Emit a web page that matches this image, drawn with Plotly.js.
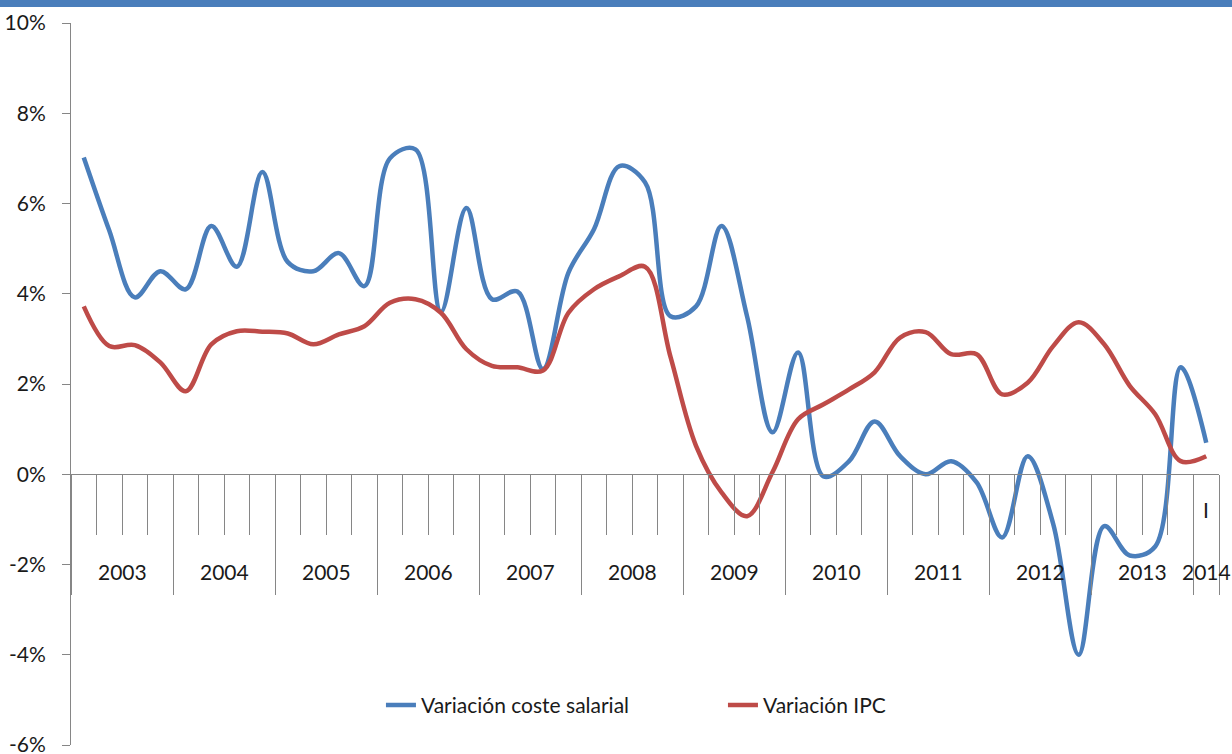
<!DOCTYPE html>
<html>
<head>
<meta charset="utf-8">
<script src="https://cdn.plot.ly/plotly-3.0.1.min.js"></script>
<style>
  html, body { margin: 0; padding: 0; background: #ffffff; }
  #topbar { position: absolute; left: 0; top: 0; width: 1232px; height: 7px; background: #4a7ebb; z-index: 5; }
  #chart { position: absolute; left: 0; top: 0; width: 1232px; height: 754px; }
</style>
</head>
<body>
<div id="topbar"></div>
<div id="chart"></div>
<script>
// Years and quarter counts (2003 Q1 .. 2014 Q1)
const years = ['2003','2004','2005','2006','2007','2008','2009','2010','2011','2012','2013','2014'];
const quartersPerYear = [4,4,4,4,4,4,4,4,4,4,4,1];
const quarterLabels2014 = ['I'];

// Variación coste salarial (%)
const costeSalarial = [
  7.02, 5.4, 3.92, 4.5, 4.1, 5.5, 4.6, 6.7, 4.7, 4.5, 4.9, 4.17,
  7.0, 7.2, 3.6, 5.9, 3.88, 4.05, 2.33, 4.47, 5.43, 6.83, 6.47, 3.5,
  3.72, 5.5, 3.5, 0.93, 2.7, -0.05, 0.29, 1.17, 0.4, 0.0, 0.29, -0.18,
  -1.4, 0.4, -1.1, -4.0, -1.15, -1.8, -1.6, 2.37, 0.7
];
// Variación IPC (%)
const ipc = [
  3.72, 2.84, 2.86, 2.48, 1.84, 2.88, 3.17, 3.16, 3.12, 2.88, 3.1, 3.28,
  3.8, 3.88, 3.58, 2.77, 2.4, 2.37, 2.3, 3.58, 4.1, 4.39, 4.6, 2.6,
  0.63, -0.4, -0.93, 0.05, 1.22, 1.55, 1.88, 2.26, 3.03, 3.15, 2.66, 2.66,
  1.77, 2.03, 2.84, 3.37, 2.88, 1.96, 1.33, 0.29, 0.4
];

const yTickVals = [-6,-4,-2,0,2,4,6,8,10];
const yTickText = ['-6%','-4%','-2%','0%','2%','4%','6%','8%','10%'];

const FONT = 'Lato, "Open Sans", sans-serif';
const AXIS_GRAY = '#868686';
const TXT = '#1a1a1a';

const nQ = costeSalarial.length;
const xPos = costeSalarial.map((_, i) => i + 0.5);

// year boundaries and centres
const boundaries = [0];
const centres = [];
let acc = 0;
quartersPerYear.forEach(q => { centres.push(acc + q / 2); acc += q; boundaries.push(acc); });

const annotations = years.map((y, i) => ({
  x: centres[i], y: -2.15, xref: 'x', yref: 'y', text: y, showarrow: false,
  font: { family: FONT, size: 21, color: TXT }, xanchor: 'center', yanchor: 'middle'
}));
// quarter label for 2014
quarterLabels2014.forEach((q, k) => {
  annotations.push({
    x: boundaries[11] + k + 0.5, y: -0.78, xref: 'x', yref: 'y', text: q, showarrow: false,
    font: { family: FONT, size: 21, color: TXT }, xanchor: 'center', yanchor: 'middle'
  });
});

const traces = [
  { x: xPos, y: costeSalarial, type: 'scatter', mode: 'lines', name: 'Variación coste salarial',
    line: { color: '#4a7ebb', width: 4.5, shape: 'spline', smoothing: 1 } },
  { x: xPos, y: ipc, type: 'scatter', mode: 'lines', name: 'Variación IPC',
    line: { color: '#be4b48', width: 4.5, shape: 'spline', smoothing: 1 } }
];

const layout = {
  width: 1232, height: 754,
  margin: { l: 71, r: 13, t: 23, b: 9 },
  paper_bgcolor: '#ffffff', plot_bgcolor: '#ffffff',
  font: { family: FONT, size: 21, color: TXT },
  showlegend: true,
  legend: {
    orientation: 'h', x: 0.27, xanchor: 'left', y: 0.055, yanchor: 'middle',
    font: { family: FONT, size: 21, color: TXT }, entrywidth: 297, bgcolor: 'rgba(0,0,0,0)'
  },
  xaxis: {
    range: [0, nQ], anchor: 'free', position: 0.375, domain: [0, 1],
    showgrid: false, zeroline: false, showline: true, linecolor: AXIS_GRAY, linewidth: 1,
    tickmode: 'array', tickvals: boundaries, ticks: 'outside', ticklen: 120, tickcolor: AXIS_GRAY, tickwidth: 1,
    showticklabels: false,
    minor: { tickmode: 'linear', tick0: 0, dtick: 1, ticks: 'outside', ticklen: 60, tickcolor: AXIS_GRAY, tickwidth: 1, showgrid: false }
  },
  yaxis: {
    range: [-6, 10], showgrid: false, zeroline: false, showline: true, linecolor: AXIS_GRAY, linewidth: 1,
    tickmode: 'array', tickvals: yTickVals, ticktext: yTickText,
    ticks: 'outside', ticklen: 8, tickcolor: AXIS_GRAY, tickwidth: 1, ticklabelstandoff: 12,
    ticklabeloverflow: 'allow',
    tickfont: { family: FONT, size: 21, color: TXT }
  },
  annotations: annotations
};

Plotly.newPlot('chart', traces, layout, { displayModeBar: false, staticPlot: true });
</script>
</body>
</html>
